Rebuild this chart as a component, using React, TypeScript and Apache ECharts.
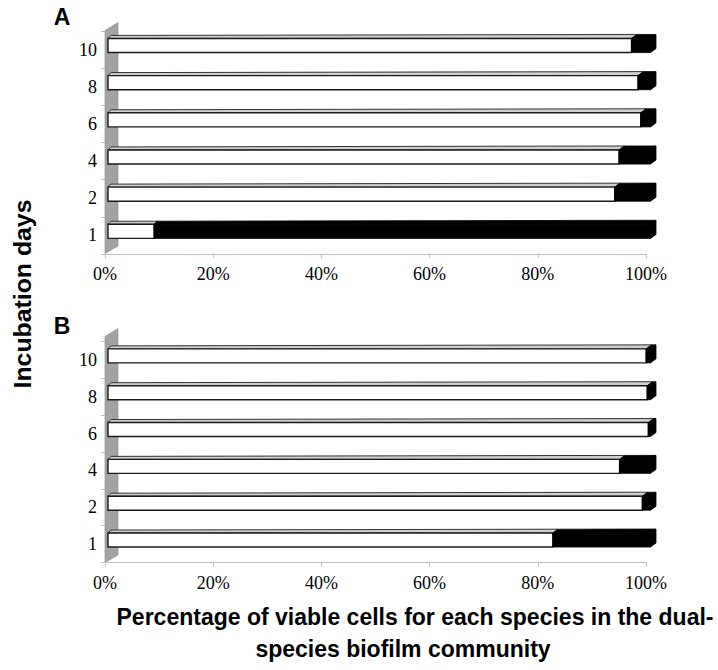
import React, { useEffect, useRef } from "react";
import * as echarts from "echarts";

// Incubation days (categories, bottom to top)
const days = ["1", "2", "4", "6", "8", "10"];
// Panel A: percentage of viable cells per species
const panelA_species1 = [8.5, 93.4, 94.2, 98.2, 97.7, 96.5];
const panelA_species2 = [91.5, 6.6, 5.8, 1.8, 2.3, 3.5];
// Panel B
const panelB_species1 = [82.0, 98.5, 94.3, 99.6, 99.4, 99.2];
const panelB_species2 = [18.0, 1.5, 5.7, 0.4, 0.6, 0.8];
// x-axis ticks
const xTicks = [0, 20, 40, 60, 80, 100];

const SERIF = "'Liberation Serif', 'Times New Roman', serif";
const SANS = "'Liberation Sans', Arial, sans-serif";

function renderBar3D(params: any, api: any) {
  const cat = api.value(0);
  const w = api.value(1);
  const b = api.value(2);
  const p0 = api.coord([0, cat]);
  const x0 = p0[0];
  const cy = p0[1];
  const xW = api.coord([w, cat])[0];
  const xE = api.coord([w + b, cat])[0];
  const full = api.coord([100, cat])[0] - x0;
  const band = api.size([0, 1])[1];
  const h = band * 0.38;
  const top = cy - band * 0.3;
  const bot = top + h;
  const fx = (X: number) => X + 3 + (1.5 * (X - x0)) / full;
  const dx = (X: number) => 3 + (2.5 * (X - x0)) / full;
  const dy = (X: number) => -3 - (1 * (X - x0)) / full;
  const children: any[] = [];
  // white segment
  children.push({
    type: "polygon",
    shape: {
      points: [
        [fx(x0), top],
        [fx(x0) + dx(x0), top + dy(x0)],
        [fx(xW) + dx(xW), top + dy(xW)],
        [fx(xW), top],
      ],
    },
    style: { fill: "#cfcfcf", stroke: "#333", lineWidth: 1 },
  });
  children.push({
    type: "rect",
    shape: { x: fx(x0), y: top, width: fx(xW) - fx(x0), height: h },
    style: { fill: "#ffffff", stroke: "#1a1a1a", lineWidth: 1.4 },
  });
  // black segment
  if (b > 0) {
    children.push({
      type: "polygon",
      shape: {
        points: [
          [fx(xW), top],
          [fx(xW) + dx(xW), top + dy(xW)],
          [fx(xE) + dx(xE), top + dy(xE)],
          [fx(xE), top],
        ],
      },
      style: { fill: "#000", stroke: "#000", lineWidth: 0.8 },
    });
    children.push({
      type: "rect",
      shape: { x: fx(xW), y: top, width: fx(xE) - fx(xW), height: h },
      style: { fill: "#000", stroke: "#000", lineWidth: 0.8 },
    });
  }
  children.push({
    type: "polygon",
    shape: {
      points: [
        [fx(xE), top],
        [fx(xE) + dx(xE), top + dy(xE)],
        [fx(xE) + dx(xE), bot + dy(xE)],
        [fx(xE), bot],
      ],
    },
    style: { fill: b > 0 ? "#000" : "#888", stroke: "#000", lineWidth: 0.8 },
  });
  return { type: "group", children };
}

export default function App() {
  const ref = useRef<HTMLDivElement>(null);
  useEffect(() => {
    document.body.style.margin = "0";
    const chart = echarts.init(ref.current!, null, { renderer: "svg" });
    const dataA = days.map((_, i) => [i, panelA_species1[i], panelA_species2[i]]);
    const dataB = days.map((_, i) => [i, panelB_species1[i], panelB_species2[i]]);
    const xAxisBase = (gridIndex: number) => ({
      type: "value",
      gridIndex,
      min: xTicks[0],
      max: xTicks[xTicks.length - 1],
      interval: xTicks[1] - xTicks[0],
      splitLine: { show: false },
      axisLine: { show: true, lineStyle: { color: "#bdbdbd", width: 1 } },
      axisTick: { show: true, length: 4, lineStyle: { color: "#bdbdbd" } },
      axisLabel: {
        formatter: "{value}%",
        fontFamily: SERIF,
        fontSize: 18,
        color: "#000",
        margin: 11,
      },
    });
    const yAxisBase = (gridIndex: number) => ({
      type: "category",
      gridIndex,
      data: days,
      axisLine: { show: false },
      axisTick: { show: true, length: 4, lineStyle: { color: "#bdbdbd" } },
      axisLabel: { fontFamily: SERIF, fontSize: 18, color: "#000", margin: 8 },
    });
    chart.setOption({
      animation: false,
      backgroundColor: "#fff",
      grid: [
        { left: 105, right: 72, top: 31, height: 223 },
        { left: 105, right: 72, top: 341.5, height: 221 },
      ],
      xAxis: [xAxisBase(0), xAxisBase(1)],
      yAxis: [yAxisBase(0), yAxisBase(1)],
      series: [
        {
          type: "custom",
          name: "A",
          xAxisIndex: 0,
          yAxisIndex: 0,
          z: 5,
          renderItem: renderBar3D,
          data: dataA,
          encode: { x: [1, 2], y: 0 },
        },
        {
          type: "custom",
          name: "B",
          xAxisIndex: 1,
          yAxisIndex: 1,
          z: 5,
          renderItem: renderBar3D,
          data: dataB,
          encode: { x: [1, 2], y: 0 },
        },
      ],
      graphic: [
        {
          type: "polygon",
          z: -10,
          shape: { points: [[105, 30.5], [118, 22.5], [118, 246], [105, 253.5]] },
          style: { fill: "#a3a3a3", stroke: "#8a8a8a", lineWidth: 0.6 },
        },
        {
          type: "polygon",
          z: -10,
          shape: { points: [[105, 336.5], [118, 328.5], [118, 555], [105, 562.5]] },
          style: { fill: "#a3a3a3", stroke: "#8a8a8a", lineWidth: 0.6 },
        },
        {
          type: "text",
          x: 62,
          y: 17,
          style: { text: "A", font: `bold 23px ${SANS}`, fill: "#000", textAlign: "center", textVerticalAlign: "middle" },
        },
        {
          type: "text",
          x: 62,
          y: 326,
          style: { text: "B", font: `bold 23px ${SANS}`, fill: "#000", textAlign: "center", textVerticalAlign: "middle" },
        },
        {
          type: "text",
          x: 23,
          y: 294,
          rotation: Math.PI / 2,
          scaleX: 1.08,
          style: {
            text: "Incubation days",
            font: `bold 23px ${SANS}`,
            fill: "#000",
            textAlign: "center",
            textVerticalAlign: "middle",
          },
        },
        {
          type: "text",
          x: 415,
          y: 617,
          style: {
            text: "Percentage of viable cells for each species in the dual-",
            font: `bold 23px ${SANS}`,
            fill: "#000",
            textAlign: "center",
            textVerticalAlign: "middle",
          },
        },
        {
          type: "text",
          x: 403,
          y: 649,
          style: {
            text: "species biofilm community",
            font: `bold 23px ${SANS}`,
            fill: "#000",
            textAlign: "center",
            textVerticalAlign: "middle",
          },
        },
      ],
    });
    return () => chart.dispose();
  }, []);
  return (
    <div
      ref={ref}
      style={{ position: "fixed", left: 0, top: 0, width: 718, height: 670, background: "#fff" }}
    />
  );
}
